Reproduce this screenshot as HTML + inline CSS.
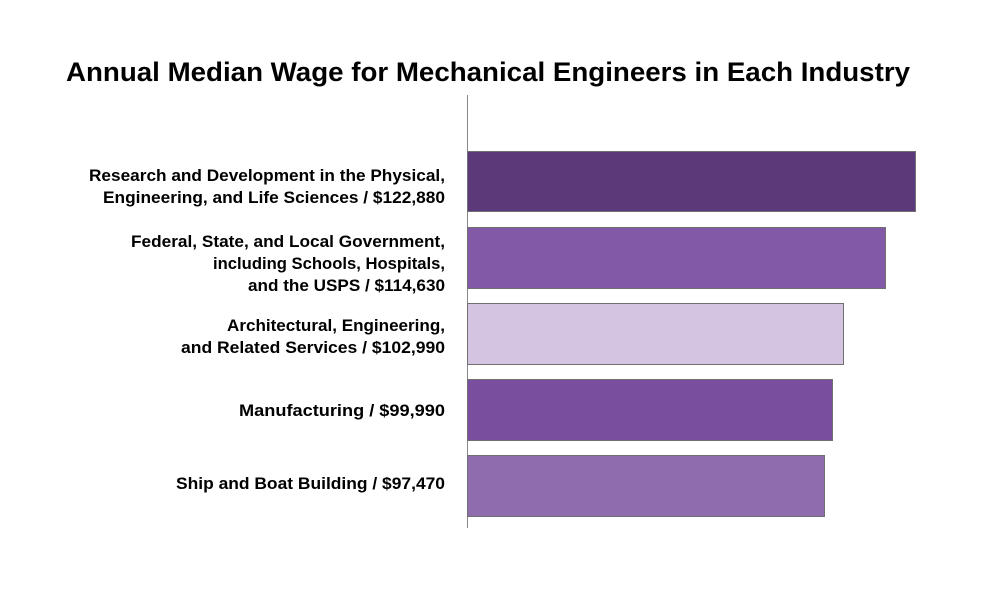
<!DOCTYPE html>
<html><head><meta charset="utf-8"><style>
html,body{margin:0;padding:0;background:#fff;}
svg{display:block;font-family:"Liberation Sans",Arial,sans-serif;font-weight:bold;}
</style></head><body>
<svg width="986" height="612" xmlns="http://www.w3.org/2000/svg">
<text x="66" y="81" font-size="27" textLength="844" lengthAdjust="spacingAndGlyphs" fill="#000">Annual Median Wage for Mechanical Engineers in Each Industry</text>
<line x1="467.5" y1="95" x2="467.5" y2="528" stroke="#888" stroke-width="1"/>
<g stroke="#707070" stroke-width="1">
<rect x="467.5" y="151.5" width="448" height="60" fill="#5c3a7a"/>
<rect x="467.5" y="227.5" width="418" height="61" fill="#8259a6"/>
<rect x="467.5" y="303.5" width="376" height="61" fill="#d5c4e1"/>
<rect x="467.5" y="379.5" width="365" height="61" fill="#7a4e9e"/>
<rect x="467.5" y="455.5" width="357" height="61" fill="#8e6cae"/>
</g>
<g font-size="17" text-anchor="end" fill="#000">
<text x="445" y="181" textLength="356" lengthAdjust="spacingAndGlyphs">Research and Development in the Physical,</text>
<text x="445" y="203" textLength="342" lengthAdjust="spacingAndGlyphs">Engineering, and Life Sciences / $122,880</text>
<text x="445" y="247" textLength="314" lengthAdjust="spacingAndGlyphs">Federal, State, and Local Government,</text>
<text x="445" y="269" textLength="232" lengthAdjust="spacingAndGlyphs">including Schools, Hospitals,</text>
<text x="445" y="291" textLength="197" lengthAdjust="spacingAndGlyphs">and the USPS / $114,630</text>
<text x="445" y="331" textLength="218" lengthAdjust="spacingAndGlyphs">Architectural, Engineering,</text>
<text x="445" y="353" textLength="264" lengthAdjust="spacingAndGlyphs">and Related Services / $102,990</text>
<text x="445" y="416" textLength="206" lengthAdjust="spacingAndGlyphs">Manufacturing / $99,990</text>
<text x="445" y="489" textLength="269" lengthAdjust="spacingAndGlyphs">Ship and Boat Building / $97,470</text>
</g>
</svg>
</body></html>
